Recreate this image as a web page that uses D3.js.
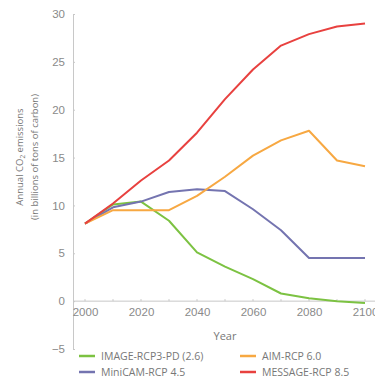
<!DOCTYPE html>
<html>
<head>
<meta charset="utf-8">
<script src="https://cdn.jsdelivr.net/npm/d3@7"></script>
<style>
  html, body { margin: 0; padding: 0; background: #fff; }
  svg { display: block; font-family: "Open Sans", "Noto Sans", sans-serif; }
</style>
</head>
<body>
<svg id="chart" width="375" height="378"></svg>
<script>
// Annual CO2 emissions under four RCP scenarios (billions of tons of carbon)
const years = [2000, 2010, 2020, 2030, 2040, 2050, 2060, 2070, 2080, 2090, 2100];
const imageRcp26   = [8.1, 10.1, 10.4, 8.4, 5.1, 3.6, 2.3, 0.8, 0.3, 0.0, -0.2];
const minicamRcp45 = [8.1, 9.8, 10.4, 11.4, 11.7, 11.5, 9.6, 7.4, 4.5, 4.5, 4.5];
const aimRcp60     = [8.1, 9.5, 9.5, 9.5, 11.0, 13.0, 15.2, 16.8, 17.8, 14.7, 14.1];
const messageRcp85 = [8.1, 10.2, 12.6, 14.7, 17.6, 21.1, 24.2, 26.7, 27.9, 28.7, 29.0];

const seriesNames = ["IMAGE-RCP3-PD (2.6)", "MiniCAM-RCP 4.5", "AIM-RCP 6.0", "MESSAGE-RCP 8.5"];
const seriesValues = [imageRcp26, minicamRcp45, aimRcp60, messageRcp85];
const seriesColors = ["#7cc242", "#7474b0", "#f7a842", "#e8413f"];

const yTicks = [-5, 0, 5, 10, 15, 20, 25, 30];
const xTicks = [2000, 2020, 2040, 2060, 2080, 2100];

const svg = d3.select("#chart");
const x = d3.scaleLinear().domain([2000, 2100]).range([85, 365]);
const y = d3.scaleLinear().domain([-5, 30]).range([349, 14]);
const axisX = 73;

const grey = "#8a8a8a";

// y axis
const yAxis = svg.append("g")
  .attr("transform", `translate(${axisX},0)`)
  .call(d3.axisLeft(y).tickValues(yTicks).tickSize(0).tickPadding(8));
yAxis.select(".domain").attr("stroke", "#c8c8c8").attr("stroke-width", 1);
yAxis.selectAll("text").attr("fill", grey).attr("font-size", 11.5).attr("font-weight", 300);
yAxis.selectAll(".tick").append("line")
  .attr("x1", 0).attr("x2", 2).attr("stroke", "#c8c8c8");

// x axis along zero
svg.append("line")
  .attr("x1", axisX).attr("x2", 375)
  .attr("y1", y(0)).attr("y2", y(0))
  .attr("stroke", "#c8c8c8").attr("stroke-width", 1);
const xAxis = svg.append("g")
  .attr("transform", `translate(0,${y(0)})`)
  .call(d3.axisBottom(x).tickValues(xTicks).tickFormat(d3.format("d")).tickSize(0).tickPadding(7));
xAxis.select(".domain").remove();
xAxis.selectAll("text").attr("fill", grey).attr("font-size", 11.5).attr("font-weight", 300);
svg.append("g").selectAll("line").data(years).join("line")
  .attr("x1", d => x(d)).attr("x2", d => x(d))
  .attr("y1", y(0)).attr("y2", y(0) - 2)
  .attr("stroke", "#c8c8c8");

// axis titles
svg.append("text")
  .attr("transform", "translate(23,157) rotate(-90)")
  .attr("text-anchor", "middle").attr("fill", "#777").attr("font-size", 9.5)
  .html('Annual CO<tspan font-size="6.5" dy="2">2</tspan><tspan dy="-2"> emissions</tspan>');
svg.append("text")
  .attr("transform", "translate(38,157) rotate(-90)")
  .attr("text-anchor", "middle").attr("fill", "#777").attr("font-size", 9.5)
  .text("(in billions of tons of carbon)");
svg.append("text")
  .attr("x", 225).attr("y", 340)
  .attr("text-anchor", "middle").attr("fill", "#777").attr("font-size", 11)
  .text("Year");

// scenario lines
const line = d3.line().x((d, i) => x(years[i])).y(d => y(d));
svg.append("g").selectAll("path").data(seriesValues).join("path")
  .attr("d", d => line(d))
  .attr("fill", "none")
  .attr("stroke", (d, i) => seriesColors[i])
  .attr("stroke-width", 2)
  .attr("stroke-linejoin", "round");

// legend
const legendPos = [[79, 356], [79, 372], [240, 356], [240, 372]];
const legend = svg.append("g").selectAll("g").data(seriesNames).join("g")
  .attr("transform", (d, i) => `translate(${legendPos[i][0]},${legendPos[i][1]})`);
legend.append("line")
  .attr("x1", 0).attr("x2", 16).attr("y1", 0).attr("y2", 0)
  .attr("stroke", (d, i) => seriesColors[i]).attr("stroke-width", 2.5);
legend.append("text")
  .attr("x", 22).attr("y", 4)
  .attr("fill", "#777").attr("font-size", 10.5)
  .text(d => d);
</script>
</body>
</html>
